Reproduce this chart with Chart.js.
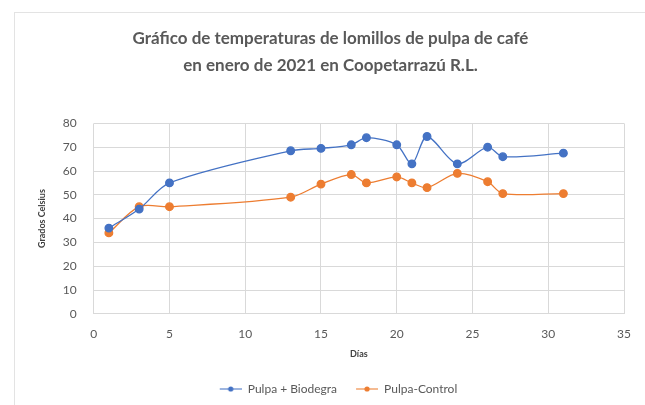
<!DOCTYPE html>
<html><head><meta charset="utf-8">
<script src="https://cdn.jsdelivr.net/npm/chart.js@4/dist/chart.umd.min.js"></script>
<style>
html,body{margin:0;padding:0;background:#fff;}
#wrap{position:relative;width:645px;height:405px;}
</style></head>
<body><div id="wrap"><canvas id="c" width="645" height="405"></canvas></div>
<script>
const days = [1, 3, 5, 13, 15, 17, 18, 20, 21, 22, 24, 26, 27, 31];
const biodegra = [36, 44, 55, 68.5, 69.5, 71, 74, 71, 63, 74.5, 63, 70, 66, 67.5];
const control = [34, 45, 45, 49, 54.5, 58.5, 55, 57.5, 55, 53, 59, 55.5, 50.5, 50.5];
const seriesNames = ['Pulpa + Biodegra', 'Pulpa-Control'];
const titleLines = ['Gráfico de temperaturas de lomillos de pulpa de café', 'en enero de 2021 en Coopetarrazú R.L.'];
const xTitle = 'Días';
const yTitle = 'Grados Celsius';

const BLUE = '#4472C4', ORANGE = '#ED7D31';
function legendIcon(color){
  // transparent left margin gives the gap between legend entries
  const c = document.createElement('canvas'); c.width = 38; c.height = 8;
  const g = c.getContext('2d');
  g.strokeStyle = color; g.globalAlpha = 0.7; g.lineWidth = 1.5; g.beginPath(); g.moveTo(16,4); g.lineTo(38,4); g.stroke();
  g.globalAlpha = 1; g.fillStyle = color; g.beginPath(); g.arc(27,4,2.6,0,Math.PI*2); g.fill();
  return c;
}
const framePlugin = {
  id:'frame',
  beforeDraw(chart){
    const g = chart.ctx; g.save(); g.strokeStyle='#e3e3e3'; g.lineWidth=1;
    g.strokeRect(14.5, 12.5, 640, 400); g.restore();
  }
};
const tickFont = { family: 'Lato', size: 12 };
new Chart(document.getElementById('c'), {
  type: 'line',
  data: {
    datasets: [
      { label: seriesNames[0], data: days.map((d,i)=>({x:d,y:biodegra[i]})), borderColor: BLUE, backgroundColor: BLUE,
        borderWidth: 1.3, pointRadius: 3.8, pointHoverRadius: 3.8, tension: 0.3, pointStyle: 'circle' },
      { label: seriesNames[1], data: days.map((d,i)=>({x:d,y:control[i]})), borderColor: ORANGE, backgroundColor: ORANGE,
        borderWidth: 1.3, pointRadius: 3.8, pointHoverRadius: 3.8, tension: 0.3, pointStyle: 'circle' }
    ]
  },
  options: {
    responsive: false, animation: false,
    layout: { padding: { left: 37, right: 21, top: 25, bottom: 0 } },
    plugins: {
      title: { display: true, text: titleLines, color: '#595959', font: { family: 'Lato', size: 17, weight: 'bold', lineHeight: 1.6 }, padding: { top: 0, bottom: 44 } },
      legend: { position: 'bottom', labels: { color: '#595959', font: { family: 'Lato', size: 12 }, usePointStyle: true, pointStyleWidth: 38,
        generateLabels(chart){
          return chart.data.datasets.map((ds,i)=>({ text: ds.label, fillStyle: ds.borderColor, strokeStyle: ds.borderColor, pointStyle: legendIcon(ds.borderColor), datasetIndex: i, hidden:false, fontColor:'#595959' }));
        }, padding: 3 } },
      tooltip: { enabled: false }
    },
    scales: {
      x: { type: 'linear', min: 0, max: 35, ticks: { stepSize: 5, color: '#595959', font: tickFont, padding: 13 },
           grid: { color: '#d9d9d9', drawTicks: false }, border: { display: false },
           title: { display: true, text: xTitle, color: '#404040', font: { family: 'Lato', size: 9, weight: 'bold' }, padding: { top: -6, bottom: 21 } } },
      y: { min: 0, max: 80, ticks: { stepSize: 10, color: '#595959', font: tickFont, padding: 17 },
           grid: { color: '#d9d9d9', drawTicks: false }, border: { display: false },
           title: { display: true, text: yTitle, color: '#404040', font: { family: 'Lato', size: 9, weight: 'bold' }, padding: { top: 0, bottom: -2 } } }
    }
  },
  plugins: [framePlugin]
});
</script></body></html>
